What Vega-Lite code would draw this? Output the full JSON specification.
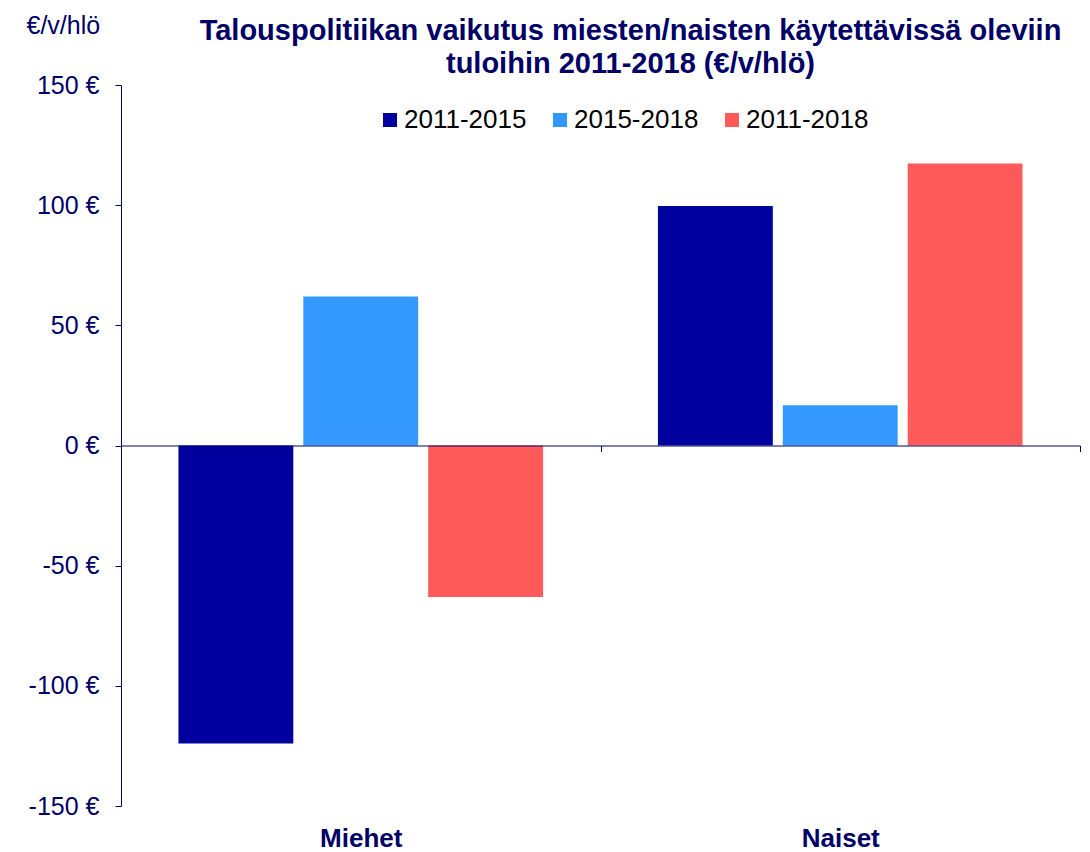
{
  "$schema": "https://vega.github.io/schema/vega-lite/v6.json",
  "autosize": "none",
  "width": 959,
  "height": 721,
  "padding": {"left": 121, "top": 85, "right": 10, "bottom": 46},
  "background": "white",
  "title": {
    "text": ["Talouspolitiikan vaikutus miesten/naisten käytettävissä oleviin", "tuloihin 2011-2018 (€/v/hlö)"],
    "anchor": "middle",
    "frame": "group",
    "dx": 30,
    "offset": -66,
    "fontSize": 29,
    "lineHeight": 33,
    "font": "Liberation Sans",
    "fontWeight": "bold",
    "color": "#000066"
  },
  "data": {
    "values": [
      {"ryhma": "Miehet", "jakso": "2011-2015", "arvo": -124},
      {"ryhma": "Miehet", "jakso": "2015-2018", "arvo": 62},
      {"ryhma": "Miehet", "jakso": "2011-2018", "arvo": -63},
      {"ryhma": "Naiset", "jakso": "2011-2015", "arvo": 99.7},
      {"ryhma": "Naiset", "jakso": "2015-2018", "arvo": 16.7},
      {"ryhma": "Naiset", "jakso": "2011-2018", "arvo": 117.3}
    ]
  },
  "mark": {"type": "bar"},
  "encoding": {
    "x": {
      "field": "ryhma",
      "type": "nominal",
      "sort": ["Miehet", "Naiset"],
      "scale": {"paddingInner": 0, "paddingOuter": 0},
      "axis": {
        "title": null,
        "labelAngle": 0,
        "orient": "bottom",
        "offset": -360.5,
        "tickBand": "extent",
        "tickSize": 6,
        "tickColor": "#000066",
        "domainColor": "#000066",
        "domainWidth": 1,
        "labelPadding": 374,
        "labelFont": "Liberation Sans",
        "labelFontSize": 26,
        "labelFontWeight": "bold",
        "labelColor": "#000066",
        "labelBaseline": "top",
        "zindex": 1
      }
    },
    "xOffset": {
      "field": "jakso",
      "type": "nominal",
      "sort": ["2011-2015", "2015-2018", "2011-2018"],
      "scale": {"paddingInner": 0.08, "paddingOuter": 0.46}
    },
    "y": {
      "field": "arvo",
      "type": "quantitative",
      "scale": {"domain": [-150, 150], "nice": false},
      "axis": {
        "title": "€/v/hlö",
        "titleAngle": 0,
        "titleAlign": "left",
        "titleBaseline": "alphabetic",
        "titleX": -95,
        "titleY": -52,
        "titleFont": "Liberation Sans",
        "titleFontSize": 25,
        "titleFontWeight": "normal",
        "titleColor": "#000066",
        "values": [-150, -100, -50, 0, 50, 100, 150],
        "labelExpr": "datum.value + ' €'",
        "labelFont": "Liberation Sans",
        "labelFontSize": 25,
        "labelColor": "#000066",
        "labelPadding": 16,
        "tickSize": 6,
        "tickColor": "#000066",
        "domainColor": "#000066",
        "grid": false
      }
    },
    "color": {
      "field": "jakso",
      "type": "nominal",
      "sort": ["2011-2015", "2015-2018", "2011-2018"],
      "scale": {"domain": ["2011-2015", "2015-2018", "2011-2018"], "range": ["#00009F", "#3399FF", "#FF5A5A"]},
      "legend": {
        "title": null,
        "orient": "none",
        "direction": "horizontal",
        "legendX": 256,
        "legendY": 22,
        "padding": 0,
        "symbolType": "square",
        "symbolSize": 196,
        "symbolStrokeWidth": 0,
        "symbolOpacity": 1,
        "labelFont": "Liberation Sans",
        "labelFontSize": 26,
        "labelColor": "#000000",
        "labelOffset": 1,
        "columnPadding": 20
      }
    }
  },
  "config": {
    "view": {"stroke": null}
  }
}
